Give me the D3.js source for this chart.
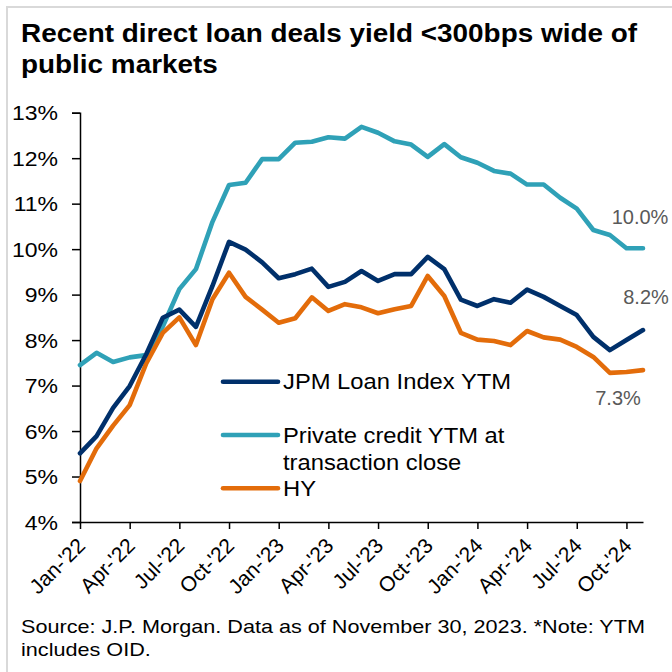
<!DOCTYPE html>
<html><head><meta charset="utf-8">
<script src="https://cdn.jsdelivr.net/npm/d3@7/dist/d3.min.js"></script>
<style>
html,body{margin:0;padding:0;background:#fff;}
svg{display:block;font-family:"Liberation Sans",Arial,sans-serif;}
</style></head>
<body>
<svg id="chart" width="672" height="672"></svg>
<script>
const months = ["Jan-'22","Feb-'22","Mar-'22","Apr-'22","May-'22","Jun-'22","Jul-'22","Aug-'22","Sep-'22","Oct-'22","Nov-'22","Dec-'22",
"Jan-'23","Feb-'23","Mar-'23","Apr-'23","May-'23","Jun-'23","Jul-'23","Aug-'23","Sep-'23","Oct-'23","Nov-'23","Dec-'23",
"Jan-'24","Feb-'24","Mar-'24","Apr-'24","May-'24","Jun-'24","Jul-'24","Aug-'24","Sep-'24","Oct-'24","Nov-'24"];
const tickMonths = ["Jan-'22","Apr-'22","Jul-'22","Oct-'22","Jan-'23","Apr-'23","Jul-'23","Oct-'23","Jan-'24","Apr-'24","Jul-'24","Oct-'24"];
const yTicks = [4,5,6,7,8,9,10,11,12,13];

const jpmLoan = [5.51,5.89,6.51,6.99,7.69,8.49,8.67,8.29,9.19,10.16,9.99,9.71,
9.36,9.45,9.57,9.17,9.28,9.52,9.30,9.45,9.45,9.83,9.56,8.89,
8.75,8.90,8.82,9.11,8.95,8.75,8.55,8.07,7.78,8.00,8.22];
const privateCredit = [7.45,7.72,7.52,7.62,7.67,8.30,9.12,9.56,10.60,11.41,11.46,11.98,
11.98,12.34,12.36,12.46,12.43,12.69,12.56,12.37,12.30,12.03,12.31,12.02,
11.90,11.72,11.66,11.42,11.42,11.13,10.89,10.42,10.31,10.02,10.02];
const highYield = [4.90,5.62,6.12,6.57,7.49,8.16,8.50,7.89,8.90,9.48,8.95,8.67,
8.38,8.48,8.94,8.64,8.79,8.72,8.59,8.68,8.75,9.41,8.97,8.16,
8.01,7.98,7.89,8.20,8.06,8.01,7.85,7.63,7.28,7.30,7.34];

const seriesNames = ["JPM Loan Index YTM","Private credit YTM at transaction close","HY"];
const legendLines = [["JPM Loan Index YTM"],["Private credit YTM at","transaction close"],["HY"]];
const endLabels = ["8.2%","10.0%","7.3%"];
const colors = ["#00306b","#2fa1b7","#e36c0a"];

const title = ["Recent direct loan deals yield <300bps wide of","public markets"];
const source = ["Source: J.P. Morgan. Data as of November 30, 2023. *Note: YTM","includes OID."];

const svg = d3.select("#chart");

function stretch(sel, k){
  sel.each(function(){
    const L = this.getComputedTextLength();
    d3.select(this).attr("textLength", L*k).attr("lengthAdjust","spacingAndGlyphs");
  });
}

// frame
svg.append("line").attr("x1",7).attr("x2",7).attr("y1",6).attr("y2",672).attr("stroke","#d9d9d9").attr("stroke-width",2);
svg.append("line").attr("x1",6).attr("x2",672).attr("y1",7).attr("y2",7).attr("stroke","#d9d9d9").attr("stroke-width",2);

// title
const tg = svg.append("g");
const t1 = tg.append("text").attr("x",21).attr("y",42).attr("font-size",26).attr("font-weight","bold").attr("fill","#000").text(title[0]);
const tf = 616 / t1.node().getComputedTextLength();
stretch(t1, tf);
const t2 = tg.append("text").attr("x",21).attr("y",73).attr("font-size",26).attr("font-weight","bold").attr("fill","#000").text(title[1]);
stretch(t2, tf);

// scales
const x = d3.scalePoint().domain(months).range([80,643]);
const y = d3.scaleLinear().domain([4,13]).range([522,112.7]);

// y axis
const yAxis = svg.append("g").attr("transform","translate(80,0)")
  .call(d3.axisLeft(y).tickValues(yTicks).tickFormat(d=>d+"%").tickSize(8).tickPadding(14));
yAxis.select(".domain").attr("stroke","#000").attr("stroke-width",1.5);
yAxis.selectAll(".tick line").attr("stroke","#000").attr("stroke-width",1.5);
yAxis.selectAll(".tick text").attr("font-size",20).attr("fill","#000").attr("font-family","Liberation Sans, Arial, sans-serif").attr("dy","0.36em");
stretch(yAxis.selectAll(".tick text"), 1.15);

// x axis
const xAxis = svg.append("g").attr("transform","translate(0,522)")
  .call(d3.axisBottom(x).tickValues(tickMonths).tickSize(7).tickSizeOuter(0));
xAxis.select(".domain").attr("stroke","#000").attr("stroke-width",1.5);
xAxis.selectAll(".tick line").attr("stroke","#000").attr("stroke-width",1.5);
xAxis.selectAll(".tick text").attr("font-size",21).attr("fill","#000").attr("font-family","Liberation Sans, Arial, sans-serif")
  .attr("text-anchor","end").attr("y",0).attr("dy",0)
  .attr("transform","translate(6,25) rotate(-45)");

// lines
const data = [jpmLoan, privateCredit, highYield];
const line = d3.line().x((d,i)=>x(months[i])).y(d=>y(d)).curve(d3.curveLinear);
const drawOrder = [1,2,0];
drawOrder.forEach(k=>{
  svg.append("path").datum(data[k]).attr("d",line).attr("fill","none")
    .attr("stroke",colors[k]).attr("stroke-width",4.6).attr("stroke-linejoin","round").attr("stroke-linecap","round");
});

// end labels
const last = months.length-1;
const labelOffsets = [[3,-26],[-3,-24],[-25,35]];
data.forEach((s,k)=>{
  svg.append("text").attr("x",x(months[last])+labelOffsets[k][0]).attr("y",y(s[last])+labelOffsets[k][1])
    .attr("text-anchor","middle").attr("font-size",20).attr("fill","#595959").text(endLabels[k]);
});

// legend
const legY = [381.7, 435, 488.3];
legendLines.forEach((lines,k)=>{
  svg.append("line").attr("x1",223).attr("x2",278).attr("y1",legY[k]).attr("y2",legY[k])
    .attr("stroke",colors[k]).attr("stroke-width",4.6).attr("stroke-linecap","round");
  lines.forEach((t,j)=>{
    const tt = svg.append("text").attr("x",283).attr("y",legY[k]+7.5+j*27.3).attr("font-size",22).attr("fill","#000").text(t);
    stretch(tt, 1.08);
  });
});

// source
const s1 = svg.append("text").attr("x",21).attr("y",633).attr("font-size",19).attr("fill","#000").text(source[0]);
const sf = 624 / s1.node().getComputedTextLength();
stretch(s1, sf);
const s2 = svg.append("text").attr("x",21).attr("y",656).attr("font-size",19).attr("fill","#000").text(source[1]);
stretch(s2, sf);
</script>
</body></html>
